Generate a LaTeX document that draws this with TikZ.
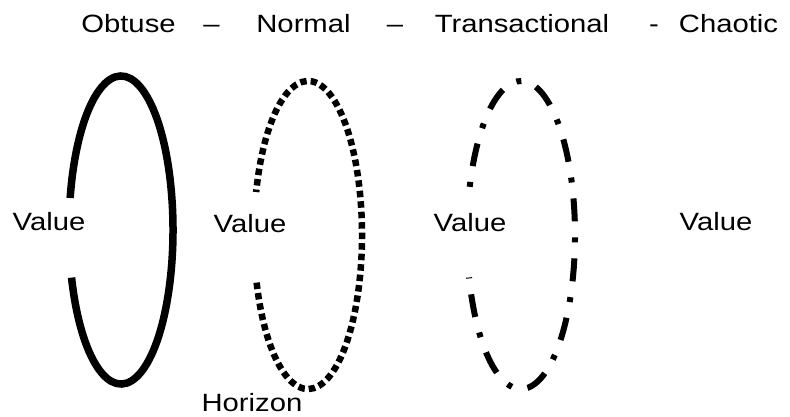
\documentclass[tikz,border=0pt]{standalone}
\usepackage{fontspec}
\newfontfamily\lblfont[FakeStretch=1.17]{Liberation Sans}
\begin{document}
\begin{tikzpicture}[x=1pt,y=1pt,
  lbl/.style={font=\lblfont\fontsize{25}{30}\selectfont, inner sep=0pt, anchor=base},
  solidring/.style={line width=7.5pt},
  dotring/.style={line width=6.5pt, dash pattern=on 6.5pt off 4pt},
  dashdotring/.style={line width=6pt, dash pattern=on 23pt off 16pt on 5pt off 16pt, dash phase=43pt}]
\useasboundingbox (0,0) rectangle (790,416);
% title
\node[lbl] (t1) at (128.5,383) {Obtuse};
\node[lbl] (d1) at (211.5,383) {–};
\node[lbl] (t2) at (303.5,383) {Normal};
\node[lbl] (d2) at (395,383) {–};
\node[lbl] (t3) at (522,383) {Transactional};
\node[lbl] (d3) at (654,383) {-};
\node[lbl] (t4) at (728.5,383) {Chaotic};
% ring centres
\coordinate (c1) at (121,186);
\coordinate (c2) at (308,181);
\coordinate (c3) at (521,181);
% rings
\draw[solidring] ([shift={(198:52pt and 154pt)}]c1) arc[start angle=198, end angle=528, x radius=52pt, y radius=154pt];
\draw[dotring] ([shift={(198:54pt and 154pt)}]c2) arc[start angle=198, end angle=523.8, x radius=54pt, y radius=154pt];
\draw[dashdotring] ([shift={(196:54pt and 154pt)}]c3) arc[start angle=196, end angle=523, x radius=54pt, y radius=154pt];
% labels
\node[lbl] (v1) at (49,186) {Value};
\node[lbl] (v2) at (250,184) {Value};
\node[lbl] (v3) at (470,185) {Value};
\node[lbl] (v4) at (716,186) {Value};
\node[lbl] (h) at (252,5) {Horizon};
\end{tikzpicture}
\end{document}
